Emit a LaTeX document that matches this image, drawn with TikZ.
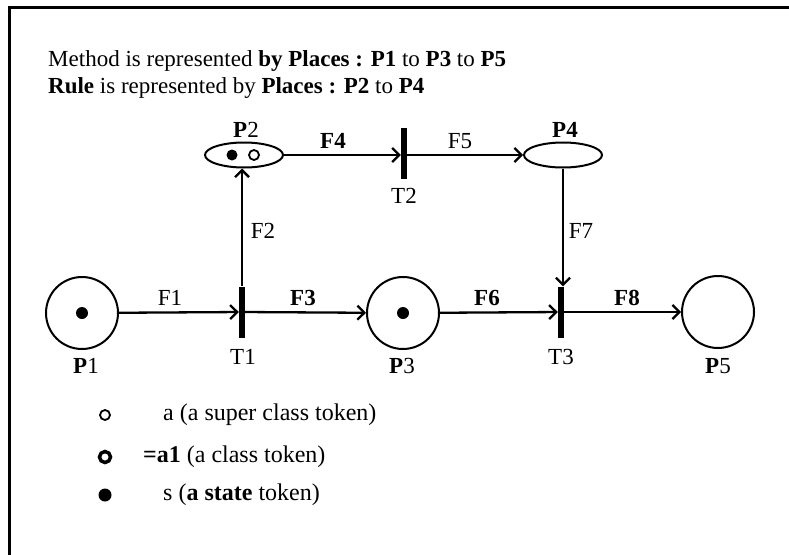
\documentclass[tikz,border=0pt]{standalone}
\usepackage{fontspec}
\setmainfont{Liberation Serif}
\usetikzlibrary{arrows.meta,shapes.geometric}
\begin{document}
\begin{tikzpicture}[x=1pt,y=-1pt,
  place/.style={circle,draw,line width=2pt,minimum size=72pt,inner sep=0pt},
  eplace/.style={ellipse,draw,line width=2pt,minimum width=78pt,minimum height=25pt,inner sep=0pt},
  trans/.style={fill=black,minimum width=6pt,minimum height=51pt,inner sep=0pt},
  arc/.style={line width=2.3pt,-{Straight Barb[length=7pt,width=14pt,line width=2.3pt]}},
  txt/.style={font=\fontsize{23}{26}\selectfont,inner sep=0pt},
  head/.style={font=\fontsize{23}{26}\selectfont,inner sep=0pt,anchor=base west},
  tok/.style={circle,fill=black,minimum size=12pt,inner sep=0pt},
  htok/.style={circle,draw,fill=white,line width=1.8pt,minimum size=10pt,inner sep=0pt},
  rtok/.style={circle,draw,line width=3.5pt,minimum size=11pt,inner sep=0pt},
  legtxt/.style={font=\fontsize{24}{27}\selectfont,inner sep=0pt,anchor=west}
]
\useasboundingbox (0,0) rectangle (789,554);
\draw[line width=3pt] (9,556) -- (9,7) -- (791,7);

% header
\node[head] (h1) at (48,66) {Method is represented \textbf{by Places : P1} to \textbf{P3} to \textbf{P5}};
\node[head] (h2) at (48,93) {\textbf{Rule} is represented by \textbf{Places : P2} to \textbf{P4}};

% places
\node[place] (P1) at (82,313) {};
\node[place] (P3) at (403,313) {};
\node[place] (P5) at (718,312) {};
\node[eplace] (P2) at (244,155) {};
\node[eplace] (P4) at (563,155) {};

% transitions
\node[trans] (T1) at (242,312) {};
\node[trans] (T2) at (404,153) {};
\node[trans] (T3) at (561,312) {};

% tokens
\node[tok] (k1) at (82,313) {};
\node[tok] (k3) at (403,313) {};
\node[tok,minimum size=11pt] (k2a) at (232,155) {};
\node[htok] (k2b) at (254,155) {};

% arcs
\draw[arc] (P1) -- (T1);
\draw[arc] (T1) -- (P3);
\draw[arc] (T1.north) -- (T1.north |- P2.south);
\draw[arc] (P2.east) -- (T2.west |- P2.east);
\draw[arc] (T2.east |- P4.west) -- (P4.west);
\draw[arc] (P4.south) -- (P4.south |- T3.north);
\draw[arc] (P3) -- (T3);
\draw[arc] (T3) -- (P5);

% labels
\node[txt] (lF1) at (170,298) {F1};
\node[txt] (lF3) at (303,298) {\textbf{F3}};
\node[txt] (lF6) at (487,298) {\textbf{F6}};
\node[txt] (lF8) at (627,298) {\textbf{F8}};
\node[txt] (lF2) at (263,231) {F2};
\node[txt] (lF7) at (581,231) {F7};
\node[txt] (lF4) at (333,141) {\textbf{F4}};
\node[txt] (lF5) at (460,141) {F5};
\node[txt] (lT1) at (243,357) {T1};
\node[txt] (lT2) at (404,196) {T2};
\node[txt] (lT3) at (561,357) {T3};
\node[txt] (lP1) at (86,366) {\textbf{P}1};
\node[txt] (lP3) at (402,366) {\textbf{P}3};
\node[txt] (lP5) at (718,366) {\textbf{P}5};
\node[txt] (lP2) at (246,130) {\textbf{P}2};
\node[txt] (lP4) at (565,130) {\textbf{P4}};

% legend
\node[htok] (s1) at (105,415) {};
\node[rtok] (s2) at (105,457) {};
\node[tok,minimum size=13pt] (s3) at (105,495) {};
\node[legtxt] (t1) at (163,415) {a (a super class token)};
\node[legtxt] (t2) at (143,457) {\textbf{=a1} (a class token)};
\node[legtxt] (t3) at (163,495) {s (\textbf{a state} token)};
\end{tikzpicture}
\end{document}
